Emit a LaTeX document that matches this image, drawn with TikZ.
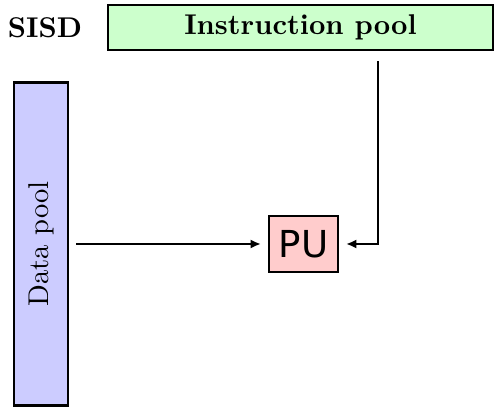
\documentclass[tikz,border=0pt]{standalone}
\usepackage{fontspec}
\newfontfamily\pufont{DejaVu Sans}
\usetikzlibrary{arrows.meta,positioning}
\definecolor{IGreen}{HTML}{CCFFCC}
\definecolor{DBlue}{HTML}{CCCCFF}
\definecolor{PRed}{HTML}{FFCCCC}
\tikzset{
    pool/.style = {draw, rectangle, thick, inner sep=0pt, align=center},
    unit/.style = {draw, rectangle, thick, fill=PRed,
        minimum width=24pt, minimum height=19.6pt,
        font=\pufont\fontsize{13}{15}\selectfont},
    arrow/.style = {draw, thick, ->, shorten <=2.5pt, shorten >=2.5pt}
}
\begin{document}
\begin{tikzpicture}[x=0.35pt,y=0.35pt,>={Latex[length=3.6pt,width=3.2pt]}]
    \useasboundingbox (0,0) rectangle (495,407);
    \node [font=\bfseries] (sisd) at (45,379) {SISD};
    \node [pool, fill=IGreen, minimum width=134.75pt, minimum height=15.75pt,
        font=\bfseries] (instr) at (300.5,379.5) {Instruction pool};
    \node [pool, fill=DBlue, rotate=90, minimum width=113pt,
        minimum height=18.9pt] (data) at (41,163) {Data pool};
    \node [unit] (pu) at (303.5,163) {PU};
    \draw [arrow] (data) -- (pu);
    \draw [arrow, shorten <=3.5pt] ([xshift=27.1pt]instr.south) |- (pu);
\end{tikzpicture}
\end{document}
